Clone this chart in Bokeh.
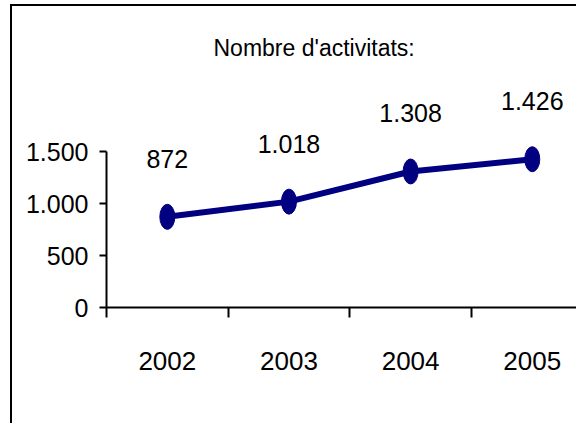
from bokeh.plotting import figure
from bokeh.models import Range1d, FixedTicker, ColumnDataSource
from bokeh.core.properties import value
from bokeh.embed import file_html
from bokeh.resources import INLINE

years = ["2002", "2003", "2004", "2005"]
activitats = [872, 1018, 1308, 1426]
value_labels = ["872", "1.018", "1.308", "1.426"]
y_ticks = [0, 500, 1000, 1500]
y_tick_labels = ["0", "500", "1.000", "1.500"]

FONT = "Liberation Sans"
NAVY = "#000080"

xs = list(range(len(years)))
src = ColumnDataSource(dict(x=xs, y=activitats, label=value_labels))

p = figure(width=566, height=419, output_backend="svg", toolbar_location=None,
           x_range=Range1d(-0.5, 3.38), y_range=Range1d(0, 2279),
           min_border_left=94, min_border_right=0, min_border_top=64,
           min_border_bottom=118)
p.styles = {"margin-left": "10px", "margin-top": "4px",
            "border-left": "2px solid black", "border-top": "2px solid black"}
p.outline_line_color = None
p.xgrid.visible = False
p.ygrid.visible = False

p.title.text = "Nombre d'activitats:"
p.title.align = "left"
p.title.offset = 107
p.title.text_font = FONT
p.title.text_font_size = "23px"
p.title.text_font_style = "normal"
p.title.text_color = "black"
p.title.standoff = 19

p.line("x", "y", source=src, line_color=NAVY, line_width=6)
p.ellipse("x", "y", source=src, width=15, height=25, width_units="screen",
          height_units="screen", fill_color=NAVY, line_color=NAVY)
p.text("x", "y", text="label", source=src, text_align="center",
       text_baseline="middle", y_offset=-58, text_font=value(FONT),
       text_font_size="25px", text_color="black")

xa = p.xaxis[0]
xa.ticker = FixedTicker(ticks=xs, minor_ticks=[i - 0.5 for i in xs] + [len(xs) - 0.5])
xa.major_label_overrides = {i: y for i, y in zip(xs, years)}
xa.major_tick_out = 0
xa.major_tick_in = 0
xa.minor_tick_out = 10
xa.minor_tick_in = 0
xa.minor_tick_line_width = 2
xa.minor_tick_line_color = "black"
xa.axis_line_width = 2
xa.axis_line_color = "black"
xa.major_label_standoff = 34
xa.major_label_text_font = FONT
xa.major_label_text_font_size = "26px"
xa.major_label_text_color = "black"

ya = p.yaxis[0]
ya.ticker = FixedTicker(ticks=y_ticks, minor_ticks=[])
ya.major_label_overrides = {t: l for t, l in zip(y_ticks, y_tick_labels)}
ya.bounds = (y_ticks[0], y_ticks[-1])
ya.major_tick_out = 7
ya.major_tick_in = 0
ya.major_tick_line_width = 2
ya.major_tick_line_color = "black"
ya.axis_line_width = 2
ya.axis_line_color = "black"
ya.major_label_standoff = 11
ya.major_label_text_font = FONT
ya.major_label_text_font_size = "25px"
ya.major_label_text_color = "black"

open("out.html", "w").write(file_html(p, INLINE))
